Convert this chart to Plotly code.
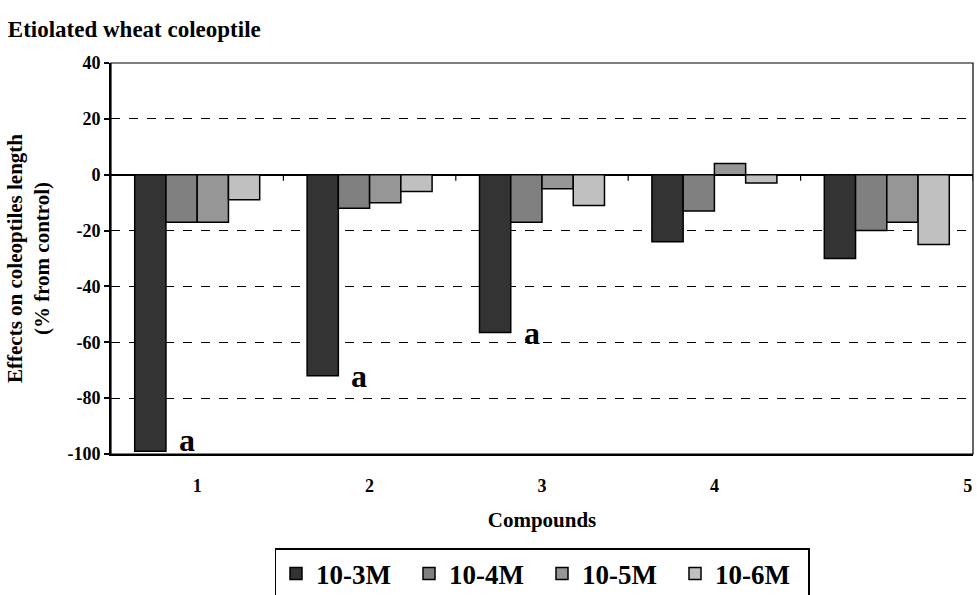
import plotly.graph_objects as go

compounds = [1, 2, 3, 4, 5]
tick_positions = [1, 2, 3, 4, 5.47]
tick_labels = ["1", "2", "3", "4", "5"]
y_ticks = [40, 20, 0, -20, -40, -60, -80, -100]
series_names = ["10-3M", "10-4M", "10-5M", "10-6M"]
v_3M = [-99, -72, -56.5, -24, -30]
v_4M = [-17, -12, -17, -13, -20]
v_5M = [-17, -10, -5, 4, -17]
v_6M = [-9, -6, -11, -3, -25]
colors = ["#333333", "#808080", "#969696", "#c0c0c0"]
sig_labels = ["a", "a", "a", "", ""]

FONT = "Liberation Serif, Times New Roman, serif"
fig = go.Figure()
for name, vals, col in zip(series_names, [v_3M, v_4M, v_5M, v_6M], colors):
    fig.add_trace(go.Bar(x=compounds, y=vals, name="<b>%s</b>" % name,
                         marker=dict(color=col, line=dict(color="black", width=1.5))))

for c, v, s in zip(compounds, v_3M, sig_labels):
    if s:
        fig.add_annotation(x=c - 0.06, y=max(v, -95), text="<b>%s</b>" % s, showarrow=False,
                           xanchor="center", yanchor="middle",
                           font=dict(family=FONT, size=32, color="black"))

# y axis title as rotated annotation
fig.add_annotation(x=(28.5 - 111) / 862, y=0.5, xref="paper", yref="paper", textangle=-90,
                   text="<b>Effects on coleoptiles length<br>(% from control)</b>", showarrow=False,
                   xanchor="center", yanchor="middle",
                   font=dict(family=FONT, size=21, color="black"))

# category boundary ticks on the zero line
for c in compounds:
    fig.add_shape(type="line", xref="x", yref="y", x0=c + 0.5, x1=c + 0.5, y0=0, y1=-2.2,
                  line=dict(color="black", width=1.2))
# thin frame
fig.add_shape(type="rect", xref="paper", yref="paper", x0=0, x1=1, y0=0, y1=1,
              line=dict(color="black", width=1.2), layer="above")

fig.update_layout(
    width=977, height=595,
    margin=dict(l=111, r=4, t=63, b=141, autoexpand=False),
    paper_bgcolor="white", plot_bgcolor="white",
    barmode="group", bargap=0.275, bargroupgap=0,
    font=dict(family=FONT, color="black"),
    title=dict(text="<b>Etiolated wheat coleoptile</b>", xref="container", x=0.008,
               y=1 - 29 / 595, yanchor="middle", xanchor="left",
               font=dict(family=FONT, size=23, color="black")),
    xaxis=dict(range=[0.5, 5.5], tickvals=tick_positions, ticktext=["<b>%s</b>" % t for t in tick_labels],
               ticks="", showgrid=False, zeroline=False, showline=True, linecolor="black", linewidth=2,
               tickfont=dict(family=FONT, size=18), ticklabelstandoff=14, automargin=False,
               title=dict(text="<b>Compounds</b>", font=dict(family=FONT, size=21), standoff=18)),
    yaxis=dict(range=[-100, 40], tickvals=y_ticks,
               ticktext=["<b>%d</b>" % t for t in y_ticks],
               ticks="outside", ticklen=5, tickwidth=1.5, tickcolor="black",
               showgrid=True, gridcolor="black", gridwidth=1.2, griddash="dash",
               zeroline=True, zerolinecolor="black", zerolinewidth=2.2,
               showline=True, linecolor="black", linewidth=2, automargin=False,
               tickfont=dict(family=FONT, size=18)),
    legend=dict(orientation="h", xref="container", yref="container",
                x=542 / 977, xanchor="center", y=1 - 548 / 595, yanchor="top",
                bordercolor="black", borderwidth=1.5,
                font=dict(family=FONT, size=27, color="black"),
                itemwidth=30, tracegroupgap=0, entrywidth=88, entrywidthmode="pixels"),
    showlegend=True,
)
fig.update_traces(showlegend=True)

fig.write_html("out.html")
